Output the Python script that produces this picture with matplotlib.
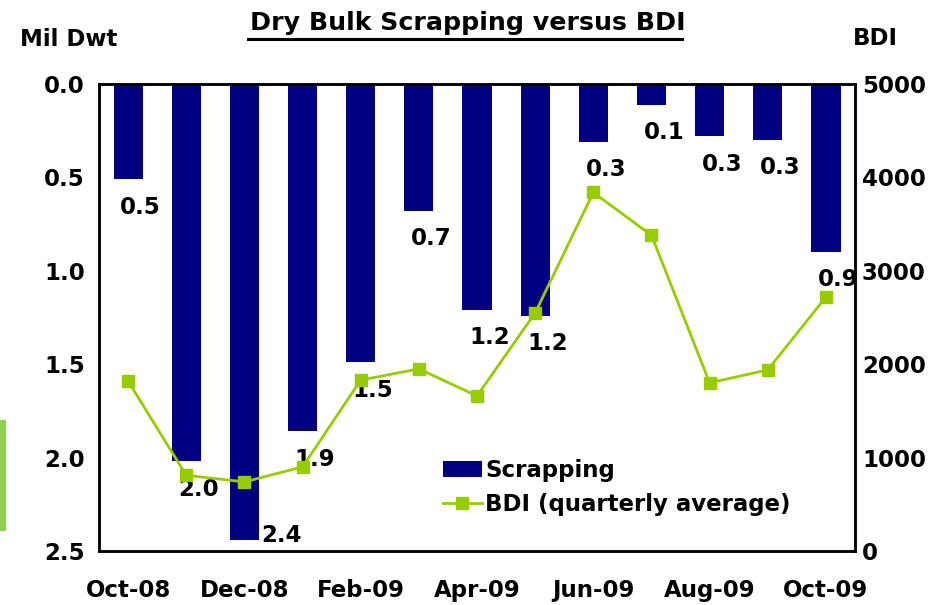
import matplotlib.pyplot as plt
from matplotlib.patches import Rectangle
import numpy as np

plt.rcParams['font.family'] = ['DejaVu Sans']
plt.rcParams['font.weight'] = 'bold'

months = ['Oct-08', 'Nov-08', 'Dec-08', 'Jan-09', 'Feb-09', 'Mar-09', 'Apr-09',
          'May-09', 'Jun-09', 'Jul-09', 'Aug-09', 'Sep-09', 'Oct-09']
scrapping = [0.51, 2.02, 2.44, 1.86, 1.49, 0.68, 1.21, 1.24, 0.31, 0.11, 0.28, 0.30, 0.90]
bdi = [1820, 810, 740, 900, 1830, 1950, 1660, 2550, 3840, 3380, 1800, 1940, 2720]
tick_months = ['Oct-08', 'Dec-08', 'Feb-09', 'Apr-09', 'Jun-09', 'Aug-09', 'Oct-09']

BAR = '#000080'
LINE = '#99CC00'
FS = 16.5

fig = plt.figure(figsize=(9.49, 6.05), dpi=100)
ax = fig.add_axes([0.1043, 0.0893, 0.7967, 0.7717])
x = np.arange(len(months))

bars = ax.bar(x, scrapping, width=0.5, color=BAR, label='Scrapping', zorder=2)
ax.set_ylim(2.5, 0)
ax.set_xlim(-0.5, len(months) - 0.5)
ax.set_yticks(np.arange(0, 2.51, 0.5))
ax.set_yticklabels([f'{v:.1f}' for v in np.arange(0, 2.51, 0.5)])
ax.set_xticks([months.index(m) for m in tick_months])
ax.set_xticklabels(tick_months)
ax.tick_params(axis='y', length=0, pad=10, labelsize=FS)
ax.tick_params(axis='x', length=0, pad=20, labelsize=FS)
for s in ax.spines.values():
    s.set_linewidth(1.8)

# value labels under each bar
for i, v in enumerate(scrapping):
    off = (9, -20)
    if i == 2:
        off = (27, 3)
    ax.annotate(f'{v:.1f}', (i, v), xytext=off, textcoords='offset points',
                ha='center', va='center', fontsize=FS, fontweight='bold')

ax2 = ax.twinx()
ln, = ax2.plot(x, bdi, color=LINE, lw=2.0, marker='s', markersize=9,
               label='BDI (quarterly average)')
ax2.set_ylim(0, 5000)
ax2.set_yticks(range(0, 5001, 1000))
ax2.tick_params(axis='y', length=0, pad=5, labelsize=FS)
for s in ax2.spines.values():
    s.set_linewidth(1.8)

ax2.legend(handles=[bars, ln], loc='center left', bbox_to_anchor=(0.455, 0.136),
           frameon=False, fontsize=FS, handlelength=1.7, handletextpad=0.15,
           labelspacing=0.45, borderpad=0, borderaxespad=0)

fig.text(0.4925, 0.962, 'Dry Bulk Scrapping versus BDI', ha='center', va='center',
         fontsize=18.2, fontweight='bold')
# underline for title
fig.add_artist(plt.Line2D([0.2615, 0.7185], [0.935, 0.935], color='black', lw=2.2))
fig.text(0.021, 0.934, 'Mil Dwt', ha='left', va='center', fontsize=FS, fontweight='bold')
fig.text(0.899, 0.937, 'BDI', ha='left', va='center', fontsize=FS, fontweight='bold')

# green strip at left edge (from the slide crop)
fig.add_artist(Rectangle((0, 1 - 530 / 605), 5 / 949, 110 / 605,
                         transform=fig.transFigure, color='#92D050'))

fig.savefig('out.png', dpi=100)
